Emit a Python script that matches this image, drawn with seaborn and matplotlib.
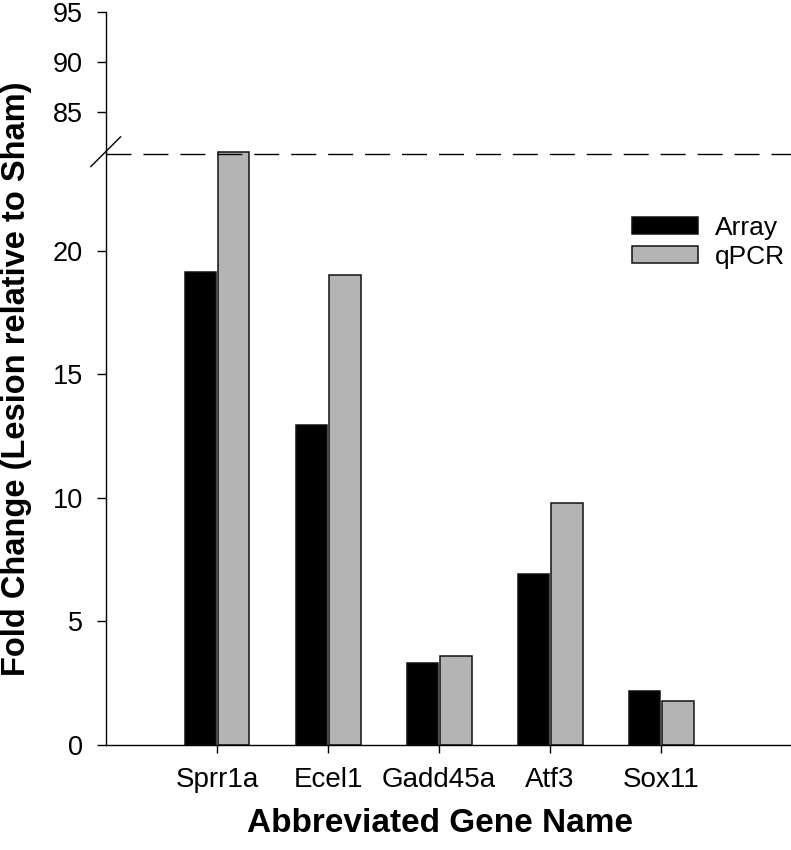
import matplotlib
matplotlib.use("Agg")
import matplotlib.pyplot as plt
from matplotlib.lines import Line2D
import pandas as pd
import seaborn as sns

# -- data ---------------------------------------------------------------------
genes = ["Sprr1a", "Ecel1", "Gadd45a", "Atf3", "Sox11"]
array_fc = [19.15, 12.95, 3.3, 6.9, 2.2]
qpcr_fc = [81.0, 19.0, 3.6, 9.8, 1.8]
methods = ["Array", "qPCR"]
low_ticks = [0, 5, 10, 15, 20]
high_ticks = [85, 90, 95]
break_lo, break_hi = 23.91, 80.77   # where the y axis is cut

df = pd.DataFrame({
    "gene": genes * 2,
    "fold": array_fc + qpcr_fc,
    "method": [methods[0]] * len(genes) + [methods[1]] * len(genes),
})

sns.set_theme(style="white")
plt.rcParams["font.family"] = ["Liberation Sans", "DejaVu Sans"]
plt.rcParams.update({"text.color": "black", "axes.labelcolor": "black",
                     "xtick.color": "black", "ytick.color": "black"})

W, H = 791, 850
fig = plt.figure(figsize=(W / 100, H / 100), dpi=100)

def fx(px):
    return px / W

def fy(py):
    return 1 - py / H

left, right = 106, 791
ax_low = fig.add_axes([fx(left), fy(745), fx(right - left), (745 - 154) / H])
ax_up = fig.add_axes([fx(left), fy(154), fx(right - left), (154 - 11.7) / H])

pal = {"Array": "#000000", "qPCR": "#b4b4b4"}
for ax in (ax_low, ax_up):
    sns.barplot(data=df, x="gene", y="fold", hue="method", palette=pal,
                width=0.6, gap=0.05, edgecolor="#111111", linewidth=1.1,
                saturation=1, ax=ax, legend=(ax is ax_low))
    ax.set_xlim(-1.0, 5.17)
    for s in ("top", "right"):
        ax.spines[s].set_visible(False)
    ax.spines["left"].set_linewidth(1.0)
    ax.spines["left"].set_color("black")
    ax.set_xlabel("")
    ax.set_ylabel("")
    ax.tick_params(axis="y", direction="out", length=6.3, width=1.0,
                   labelsize=19.5, pad=10.5, color="black", labelcolor="black", left=True)

ax_low.set_ylim(0, break_lo)
ax_low.set_yticks(low_ticks)
ax_low.spines["bottom"].set_linewidth(1.0)
ax_low.spines["bottom"].set_color("black")
ax_low.tick_params(axis="x", direction="out", length=6, width=1.0,
                   labelsize=20, pad=9.5, color="black", labelcolor="black", bottom=True)

ax_up.set_ylim(break_hi, 95)
ax_up.set_yticks(high_ticks)
ax_up.spines["bottom"].set_visible(False)
ax_up.set_xticks([])
ax_up.patch.set_alpha(0)

# dashed break line and slash on the axis
ax_up.axhline(break_hi, color="black", lw=1.0, ls=(0, (18, 8.6)), clip_on=False)
fig.add_artist(Line2D([fx(90.7), fx(120.7)], [fy(166.7), fy(136.7)],
                      transform=fig.transFigure, color="black", lw=1.0))

# legend
handles, labels = ax_low.get_legend_handles_labels()
ax_low.legend(handles, labels, loc="center left", frameon=False,
              bbox_to_anchor=(fx(632), fy(242.5)), bbox_transform=fig.transFigure,
              borderpad=0, borderaxespad=0, fontsize=19, handlelength=2.5,
              handleheight=0.6, handletextpad=0.65, labelspacing=0.2)

fig.text(fx(440), fy(832), "Abbreviated Gene Name", ha="center", va="baseline",
         fontsize=24, fontweight="bold")
fig.text(fx(16.5), fy(378.5), "Fold Change (Lesion relative to Sham)",
         rotation=90, ha="center", va="center", fontsize=23.5, fontweight="bold")

fig.savefig("out.png", dpi=100)
